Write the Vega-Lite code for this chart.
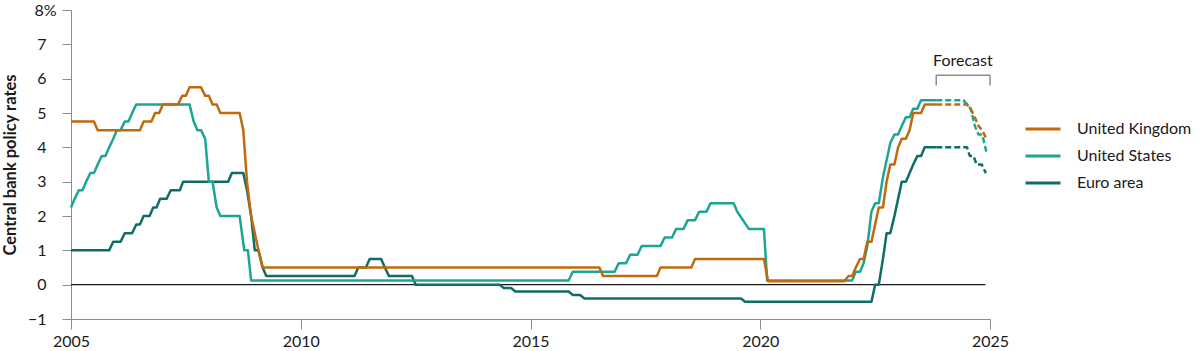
{
  "$schema": "https://vega.github.io/schema/vega-lite/v6.json",
  "width": 919,
  "height": 309,
  "autosize": {"type": "none"},
  "padding": {"left": 71, "top": 10, "right": 210, "bottom": 32},
  "config": {"font": "Lato", "view": {"stroke": null}, "background": "white"},
  "datasets": {
    "rates": [
      {"country": "Euro area", "seg": "Actual", "year": 2005, "rate": 1.0},
      {"country": "Euro area", "seg": "Actual", "year": 2005.83, "rate": 1.0},
      {"country": "Euro area", "seg": "Actual", "year": 2005.92, "rate": 1.25},
      {"country": "Euro area", "seg": "Actual", "year": 2006.08, "rate": 1.25},
      {"country": "Euro area", "seg": "Actual", "year": 2006.17, "rate": 1.5},
      {"country": "Euro area", "seg": "Actual", "year": 2006.33, "rate": 1.5},
      {"country": "Euro area", "seg": "Actual", "year": 2006.42, "rate": 1.75},
      {"country": "Euro area", "seg": "Actual", "year": 2006.5, "rate": 1.75},
      {"country": "Euro area", "seg": "Actual", "year": 2006.58, "rate": 2.0},
      {"country": "Euro area", "seg": "Actual", "year": 2006.71, "rate": 2.0},
      {"country": "Euro area", "seg": "Actual", "year": 2006.79, "rate": 2.25},
      {"country": "Euro area", "seg": "Actual", "year": 2006.86, "rate": 2.25},
      {"country": "Euro area", "seg": "Actual", "year": 2006.94, "rate": 2.5},
      {"country": "Euro area", "seg": "Actual", "year": 2007.08, "rate": 2.5},
      {"country": "Euro area", "seg": "Actual", "year": 2007.17, "rate": 2.75},
      {"country": "Euro area", "seg": "Actual", "year": 2007.37, "rate": 2.75},
      {"country": "Euro area", "seg": "Actual", "year": 2007.44, "rate": 3.0},
      {"country": "Euro area", "seg": "Actual", "year": 2008.42, "rate": 3.0},
      {"country": "Euro area", "seg": "Actual", "year": 2008.5, "rate": 3.25},
      {"country": "Euro area", "seg": "Actual", "year": 2008.75, "rate": 3.25},
      {"country": "Euro area", "seg": "Actual", "year": 2008.83, "rate": 2.75},
      {"country": "Euro area", "seg": "Actual", "year": 2008.92, "rate": 2.0},
      {"country": "Euro area", "seg": "Actual", "year": 2009.0, "rate": 1.0},
      {"country": "Euro area", "seg": "Actual", "year": 2009.08, "rate": 1.0},
      {"country": "Euro area", "seg": "Actual", "year": 2009.17, "rate": 0.5},
      {"country": "Euro area", "seg": "Actual", "year": 2009.25, "rate": 0.25},
      {"country": "Euro area", "seg": "Actual", "year": 2011.17, "rate": 0.25},
      {"country": "Euro area", "seg": "Actual", "year": 2011.25, "rate": 0.5},
      {"country": "Euro area", "seg": "Actual", "year": 2011.42, "rate": 0.5},
      {"country": "Euro area", "seg": "Actual", "year": 2011.5, "rate": 0.75},
      {"country": "Euro area", "seg": "Actual", "year": 2011.75, "rate": 0.75},
      {"country": "Euro area", "seg": "Actual", "year": 2011.83, "rate": 0.5},
      {"country": "Euro area", "seg": "Actual", "year": 2011.92, "rate": 0.25},
      {"country": "Euro area", "seg": "Actual", "year": 2012.42, "rate": 0.25},
      {"country": "Euro area", "seg": "Actual", "year": 2012.5, "rate": 0.0},
      {"country": "Euro area", "seg": "Actual", "year": 2014.33, "rate": 0.0},
      {"country": "Euro area", "seg": "Actual", "year": 2014.42, "rate": -0.1},
      {"country": "Euro area", "seg": "Actual", "year": 2014.58, "rate": -0.1},
      {"country": "Euro area", "seg": "Actual", "year": 2014.67, "rate": -0.2},
      {"country": "Euro area", "seg": "Actual", "year": 2015.83, "rate": -0.2},
      {"country": "Euro area", "seg": "Actual", "year": 2015.92, "rate": -0.3},
      {"country": "Euro area", "seg": "Actual", "year": 2016.08, "rate": -0.3},
      {"country": "Euro area", "seg": "Actual", "year": 2016.17, "rate": -0.4},
      {"country": "Euro area", "seg": "Actual", "year": 2019.58, "rate": -0.4},
      {"country": "Euro area", "seg": "Actual", "year": 2019.67, "rate": -0.5},
      {"country": "Euro area", "seg": "Actual", "year": 2022.42, "rate": -0.5},
      {"country": "Euro area", "seg": "Actual", "year": 2022.5, "rate": 0.0},
      {"country": "Euro area", "seg": "Actual", "year": 2022.58, "rate": 0.0},
      {"country": "Euro area", "seg": "Actual", "year": 2022.67, "rate": 0.75},
      {"country": "Euro area", "seg": "Actual", "year": 2022.75, "rate": 1.5},
      {"country": "Euro area", "seg": "Actual", "year": 2022.83, "rate": 1.5},
      {"country": "Euro area", "seg": "Actual", "year": 2022.92, "rate": 2.0},
      {"country": "Euro area", "seg": "Actual", "year": 2023.0, "rate": 2.5},
      {"country": "Euro area", "seg": "Actual", "year": 2023.08, "rate": 3.0},
      {"country": "Euro area", "seg": "Actual", "year": 2023.17, "rate": 3.0},
      {"country": "Euro area", "seg": "Actual", "year": 2023.25, "rate": 3.25},
      {"country": "Euro area", "seg": "Actual", "year": 2023.33, "rate": 3.5},
      {"country": "Euro area", "seg": "Actual", "year": 2023.42, "rate": 3.75},
      {"country": "Euro area", "seg": "Actual", "year": 2023.5, "rate": 3.75},
      {"country": "Euro area", "seg": "Actual", "year": 2023.58, "rate": 4.0},
      {"country": "Euro area", "seg": "Actual", "year": 2023.83, "rate": 4.0},
      {"country": "Euro area", "seg": "Forecast", "year": 2023.83, "rate": 4.0},
      {"country": "Euro area", "seg": "Forecast", "year": 2024.5, "rate": 4.0},
      {"country": "Euro area", "seg": "Forecast", "year": 2024.56, "rate": 3.75},
      {"country": "Euro area", "seg": "Forecast", "year": 2024.64, "rate": 3.75},
      {"country": "Euro area", "seg": "Forecast", "year": 2024.71, "rate": 3.5},
      {"country": "Euro area", "seg": "Forecast", "year": 2024.82, "rate": 3.5},
      {"country": "Euro area", "seg": "Forecast", "year": 2024.91, "rate": 3.25},

      {"country": "United States", "seg": "Actual", "year": 2005, "rate": 2.25},
      {"country": "United States", "seg": "Actual", "year": 2005.08, "rate": 2.5},
      {"country": "United States", "seg": "Actual", "year": 2005.17, "rate": 2.75},
      {"country": "United States", "seg": "Actual", "year": 2005.25, "rate": 2.75},
      {"country": "United States", "seg": "Actual", "year": 2005.33, "rate": 3.0},
      {"country": "United States", "seg": "Actual", "year": 2005.42, "rate": 3.25},
      {"country": "United States", "seg": "Actual", "year": 2005.5, "rate": 3.25},
      {"country": "United States", "seg": "Actual", "year": 2005.58, "rate": 3.5},
      {"country": "United States", "seg": "Actual", "year": 2005.67, "rate": 3.75},
      {"country": "United States", "seg": "Actual", "year": 2005.75, "rate": 3.75},
      {"country": "United States", "seg": "Actual", "year": 2005.83, "rate": 4.0},
      {"country": "United States", "seg": "Actual", "year": 2005.92, "rate": 4.25},
      {"country": "United States", "seg": "Actual", "year": 2006.0, "rate": 4.5},
      {"country": "United States", "seg": "Actual", "year": 2006.08, "rate": 4.5},
      {"country": "United States", "seg": "Actual", "year": 2006.17, "rate": 4.75},
      {"country": "United States", "seg": "Actual", "year": 2006.25, "rate": 4.75},
      {"country": "United States", "seg": "Actual", "year": 2006.33, "rate": 5.0},
      {"country": "United States", "seg": "Actual", "year": 2006.42, "rate": 5.25},
      {"country": "United States", "seg": "Actual", "year": 2007.58, "rate": 5.25},
      {"country": "United States", "seg": "Actual", "year": 2007.67, "rate": 4.75},
      {"country": "United States", "seg": "Actual", "year": 2007.75, "rate": 4.5},
      {"country": "United States", "seg": "Actual", "year": 2007.83, "rate": 4.5},
      {"country": "United States", "seg": "Actual", "year": 2007.92, "rate": 4.25},
      {"country": "United States", "seg": "Actual", "year": 2008.0, "rate": 3.0},
      {"country": "United States", "seg": "Actual", "year": 2008.08, "rate": 3.0},
      {"country": "United States", "seg": "Actual", "year": 2008.17, "rate": 2.25},
      {"country": "United States", "seg": "Actual", "year": 2008.25, "rate": 2.0},
      {"country": "United States", "seg": "Actual", "year": 2008.67, "rate": 2.0},
      {"country": "United States", "seg": "Actual", "year": 2008.77, "rate": 1.0},
      {"country": "United States", "seg": "Actual", "year": 2008.85, "rate": 1.0},
      {"country": "United States", "seg": "Actual", "year": 2008.92, "rate": 0.125},
      {"country": "United States", "seg": "Actual", "year": 2015.83, "rate": 0.125},
      {"country": "United States", "seg": "Actual", "year": 2015.92, "rate": 0.375},
      {"country": "United States", "seg": "Actual", "year": 2016.83, "rate": 0.375},
      {"country": "United States", "seg": "Actual", "year": 2016.92, "rate": 0.625},
      {"country": "United States", "seg": "Actual", "year": 2017.08, "rate": 0.625},
      {"country": "United States", "seg": "Actual", "year": 2017.17, "rate": 0.875},
      {"country": "United States", "seg": "Actual", "year": 2017.33, "rate": 0.875},
      {"country": "United States", "seg": "Actual", "year": 2017.42, "rate": 1.125},
      {"country": "United States", "seg": "Actual", "year": 2017.83, "rate": 1.125},
      {"country": "United States", "seg": "Actual", "year": 2017.92, "rate": 1.375},
      {"country": "United States", "seg": "Actual", "year": 2018.08, "rate": 1.375},
      {"country": "United States", "seg": "Actual", "year": 2018.17, "rate": 1.625},
      {"country": "United States", "seg": "Actual", "year": 2018.33, "rate": 1.625},
      {"country": "United States", "seg": "Actual", "year": 2018.42, "rate": 1.875},
      {"country": "United States", "seg": "Actual", "year": 2018.58, "rate": 1.875},
      {"country": "United States", "seg": "Actual", "year": 2018.67, "rate": 2.125},
      {"country": "United States", "seg": "Actual", "year": 2018.83, "rate": 2.125},
      {"country": "United States", "seg": "Actual", "year": 2018.92, "rate": 2.375},
      {"country": "United States", "seg": "Actual", "year": 2019.42, "rate": 2.375},
      {"country": "United States", "seg": "Actual", "year": 2019.5, "rate": 2.125},
      {"country": "United States", "seg": "Actual", "year": 2019.625, "rate": 1.875},
      {"country": "United States", "seg": "Actual", "year": 2019.75, "rate": 1.625},
      {"country": "United States", "seg": "Actual", "year": 2020.08, "rate": 1.625},
      {"country": "United States", "seg": "Actual", "year": 2020.15, "rate": 0.125},
      {"country": "United States", "seg": "Actual", "year": 2022.0, "rate": 0.125},
      {"country": "United States", "seg": "Actual", "year": 2022.08, "rate": 0.375},
      {"country": "United States", "seg": "Actual", "year": 2022.17, "rate": 0.375},
      {"country": "United States", "seg": "Actual", "year": 2022.25, "rate": 0.625},
      {"country": "United States", "seg": "Actual", "year": 2022.33, "rate": 1.125},
      {"country": "United States", "seg": "Actual", "year": 2022.42, "rate": 2.125},
      {"country": "United States", "seg": "Actual", "year": 2022.5, "rate": 2.375},
      {"country": "United States", "seg": "Actual", "year": 2022.58, "rate": 2.375},
      {"country": "United States", "seg": "Actual", "year": 2022.67, "rate": 3.125},
      {"country": "United States", "seg": "Actual", "year": 2022.75, "rate": 3.625},
      {"country": "United States", "seg": "Actual", "year": 2022.83, "rate": 4.125},
      {"country": "United States", "seg": "Actual", "year": 2022.92, "rate": 4.375},
      {"country": "United States", "seg": "Actual", "year": 2023.0, "rate": 4.375},
      {"country": "United States", "seg": "Actual", "year": 2023.08, "rate": 4.625},
      {"country": "United States", "seg": "Actual", "year": 2023.17, "rate": 4.875},
      {"country": "United States", "seg": "Actual", "year": 2023.25, "rate": 4.875},
      {"country": "United States", "seg": "Actual", "year": 2023.33, "rate": 5.125},
      {"country": "United States", "seg": "Actual", "year": 2023.42, "rate": 5.125},
      {"country": "United States", "seg": "Actual", "year": 2023.5, "rate": 5.375},
      {"country": "United States", "seg": "Actual", "year": 2023.83, "rate": 5.375},
      {"country": "United States", "seg": "Forecast", "year": 2023.83, "rate": 5.375},
      {"country": "United States", "seg": "Forecast", "year": 2024.42, "rate": 5.375},
      {"country": "United States", "seg": "Forecast", "year": 2024.5, "rate": 5.25},
      {"country": "United States", "seg": "Forecast", "year": 2024.58, "rate": 5.125},
      {"country": "United States", "seg": "Forecast", "year": 2024.67, "rate": 4.625},
      {"country": "United States", "seg": "Forecast", "year": 2024.75, "rate": 4.375},
      {"country": "United States", "seg": "Forecast", "year": 2024.83, "rate": 4.375},
      {"country": "United States", "seg": "Forecast", "year": 2024.92, "rate": 3.875},

      {"country": "United Kingdom", "seg": "Actual", "year": 2005, "rate": 4.75},
      {"country": "United Kingdom", "seg": "Actual", "year": 2005.5, "rate": 4.75},
      {"country": "United Kingdom", "seg": "Actual", "year": 2005.58, "rate": 4.5},
      {"country": "United Kingdom", "seg": "Actual", "year": 2006.5, "rate": 4.5},
      {"country": "United Kingdom", "seg": "Actual", "year": 2006.58, "rate": 4.75},
      {"country": "United Kingdom", "seg": "Actual", "year": 2006.75, "rate": 4.75},
      {"country": "United Kingdom", "seg": "Actual", "year": 2006.83, "rate": 5.0},
      {"country": "United Kingdom", "seg": "Actual", "year": 2006.92, "rate": 5.0},
      {"country": "United Kingdom", "seg": "Actual", "year": 2007.0, "rate": 5.25},
      {"country": "United Kingdom", "seg": "Actual", "year": 2007.33, "rate": 5.25},
      {"country": "United Kingdom", "seg": "Actual", "year": 2007.42, "rate": 5.5},
      {"country": "United Kingdom", "seg": "Actual", "year": 2007.5, "rate": 5.5},
      {"country": "United Kingdom", "seg": "Actual", "year": 2007.58, "rate": 5.75},
      {"country": "United Kingdom", "seg": "Actual", "year": 2007.83, "rate": 5.75},
      {"country": "United Kingdom", "seg": "Actual", "year": 2007.92, "rate": 5.5},
      {"country": "United Kingdom", "seg": "Actual", "year": 2008.0, "rate": 5.5},
      {"country": "United Kingdom", "seg": "Actual", "year": 2008.08, "rate": 5.25},
      {"country": "United Kingdom", "seg": "Actual", "year": 2008.17, "rate": 5.25},
      {"country": "United Kingdom", "seg": "Actual", "year": 2008.25, "rate": 5.0},
      {"country": "United Kingdom", "seg": "Actual", "year": 2008.67, "rate": 5.0},
      {"country": "United Kingdom", "seg": "Actual", "year": 2008.75, "rate": 4.5},
      {"country": "United Kingdom", "seg": "Actual", "year": 2008.83, "rate": 3.0},
      {"country": "United Kingdom", "seg": "Actual", "year": 2008.92, "rate": 2.0},
      {"country": "United Kingdom", "seg": "Actual", "year": 2009.0, "rate": 1.5},
      {"country": "United Kingdom", "seg": "Actual", "year": 2009.08, "rate": 1.0},
      {"country": "United Kingdom", "seg": "Actual", "year": 2009.17, "rate": 0.5},
      {"country": "United Kingdom", "seg": "Actual", "year": 2016.5, "rate": 0.5},
      {"country": "United Kingdom", "seg": "Actual", "year": 2016.58, "rate": 0.25},
      {"country": "United Kingdom", "seg": "Actual", "year": 2017.75, "rate": 0.25},
      {"country": "United Kingdom", "seg": "Actual", "year": 2017.83, "rate": 0.5},
      {"country": "United Kingdom", "seg": "Actual", "year": 2018.5, "rate": 0.5},
      {"country": "United Kingdom", "seg": "Actual", "year": 2018.58, "rate": 0.75},
      {"country": "United Kingdom", "seg": "Actual", "year": 2020.08, "rate": 0.75},
      {"country": "United Kingdom", "seg": "Actual", "year": 2020.17, "rate": 0.1},
      {"country": "United Kingdom", "seg": "Actual", "year": 2021.83, "rate": 0.1},
      {"country": "United Kingdom", "seg": "Actual", "year": 2021.92, "rate": 0.25},
      {"country": "United Kingdom", "seg": "Actual", "year": 2022.0, "rate": 0.25},
      {"country": "United Kingdom", "seg": "Actual", "year": 2022.08, "rate": 0.5},
      {"country": "United Kingdom", "seg": "Actual", "year": 2022.17, "rate": 0.75},
      {"country": "United Kingdom", "seg": "Actual", "year": 2022.25, "rate": 0.75},
      {"country": "United Kingdom", "seg": "Actual", "year": 2022.33, "rate": 1.25},
      {"country": "United Kingdom", "seg": "Actual", "year": 2022.42, "rate": 1.25},
      {"country": "United Kingdom", "seg": "Actual", "year": 2022.5, "rate": 1.75},
      {"country": "United Kingdom", "seg": "Actual", "year": 2022.58, "rate": 2.25},
      {"country": "United Kingdom", "seg": "Actual", "year": 2022.67, "rate": 2.25},
      {"country": "United Kingdom", "seg": "Actual", "year": 2022.75, "rate": 3.0},
      {"country": "United Kingdom", "seg": "Actual", "year": 2022.83, "rate": 3.5},
      {"country": "United Kingdom", "seg": "Actual", "year": 2022.92, "rate": 3.5},
      {"country": "United Kingdom", "seg": "Actual", "year": 2023.0, "rate": 4.0},
      {"country": "United Kingdom", "seg": "Actual", "year": 2023.08, "rate": 4.25},
      {"country": "United Kingdom", "seg": "Actual", "year": 2023.17, "rate": 4.25},
      {"country": "United Kingdom", "seg": "Actual", "year": 2023.25, "rate": 4.5},
      {"country": "United Kingdom", "seg": "Actual", "year": 2023.33, "rate": 5.0},
      {"country": "United Kingdom", "seg": "Actual", "year": 2023.5, "rate": 5.0},
      {"country": "United Kingdom", "seg": "Actual", "year": 2023.58, "rate": 5.25},
      {"country": "United Kingdom", "seg": "Actual", "year": 2023.83, "rate": 5.25},
      {"country": "United Kingdom", "seg": "Forecast", "year": 2023.83, "rate": 5.25},
      {"country": "United Kingdom", "seg": "Forecast", "year": 2024.5, "rate": 5.25},
      {"country": "United Kingdom", "seg": "Forecast", "year": 2024.58, "rate": 5.125},
      {"country": "United Kingdom", "seg": "Forecast", "year": 2024.67, "rate": 4.875},
      {"country": "United Kingdom", "seg": "Forecast", "year": 2024.75, "rate": 4.625},
      {"country": "United Kingdom", "seg": "Forecast", "year": 2024.83, "rate": 4.5},
      {"country": "United Kingdom", "seg": "Forecast", "year": 2024.92, "rate": 4.25}
    ]
  },
  "encoding": {
    "x": {
      "field": "year", "type": "quantitative",
      "scale": {"domain": [2005, 2025], "nice": false, "zero": false},
      "axis": {
        "values": [2005, 2010, 2015, 2020, 2025], "format": "d", "title": null,
        "grid": false, "tickSize": 10, "labelPadding": 4, "labelFontSize": 16,
        "labelColor": "#1a1a1a", "domainColor": "#8c8c8c", "tickColor": "#8c8c8c",
        "labelFlush": false, "labelOverlap": false, "labelFont": "Lato"
      }
    },
    "y": {
      "field": "rate", "type": "quantitative",
      "scale": {"domain": [-1, 8], "nice": false, "zero": false},
      "axis": {
        "values": [-1, 0, 1, 2, 3, 4, 5, 6, 7, 8],
        "tickCount": 10,
        "labelExpr": "datum.value == 8 ? '8%' : datum.label",
        "title": "Central bank policy rates",
        "titleFontWeight": "bold", "titleFontSize": 16.5, "titleColor": "#1a1a1a",
        "titleX": -53, "titleY": 154.5, "titleAngle": -90, "titleAlign": "center", "titleBaseline": "bottom",
        "grid": false, "tickSize": 9, "labelFontSize": 16, "labelColor": "#1a1a1a",
        "labelAlign": {"condition": {"test": "datum.value == 8", "value": "left"}, "value": "right"},
        "labelPadding": {"condition": {"test": "datum.value == 8", "value": 28}, "value": 16},
        "labelOverlap": false,
        "domainColor": "#8c8c8c", "tickColor": "#8c8c8c", "labelFlush": false
      }
    }
  },
  "layer": [
    {
      "data": {"values": [{"year": 2005, "year2": 2024.9, "rate": 0}]},
      "mark": {"type": "rule", "color": "#1a1a1a", "strokeWidth": 1.2},
      "encoding": {
        "x2": {"field": "year2"}
      }
    },
    {
      "data": {"name": "rates"},
      "mark": {"type": "line", "strokeWidth": 2.5, "strokeJoin": "round"},
      "encoding": {
        "color": {
          "field": "country", "type": "nominal",
          "scale": {"domain": ["United Kingdom", "United States", "Euro area"], "range": ["#C0690D", "#1DA594", "#0E6E67"]},
          "legend": {
            "title": null, "orient": "none", "legendX": 953, "legendY": 100,
            "symbolType": "stroke", "symbolSize": 1225, "symbolStrokeWidth": 3,
            "labelFontSize": 16, "labelColor": "#1a1a1a", "labelOffset": 15, "rowPadding": -2, "padding": 0,
            "labelFont": "Lato"
          }
        },
        "strokeDash": {
          "field": "seg", "type": "nominal",
          "scale": {"domain": ["Actual", "Forecast"], "range": [[1, 0], [6, 3]]},
          "legend": null
        }
      }
    },
    {
      "data": {"values": [
        {"year": 2023.83, "year2": 2025, "rate": 6.1, "rate2": 6.1},
        {"year": 2023.83, "year2": 2023.83, "rate": 6.1, "rate2": 5.8},
        {"year": 2025, "year2": 2025, "rate": 6.1, "rate2": 5.8}
      ]},
      "mark": {"type": "rule", "color": "#8c8c8c", "strokeWidth": 1.5},
      "encoding": {
        "x2": {"field": "year2"},
        "y2": {"field": "rate2"}
      }
    },
    {
      "data": {"values": [{"year": 2024.41, "rate": 6.36, "label": "Forecast"}]},
      "mark": {"type": "text", "fontSize": 16, "color": "#1a1a1a", "baseline": "alphabetic", "align": "center", "font": "Lato"},
      "encoding": {
        "text": {"field": "label"}
      }
    }
  ]
}
